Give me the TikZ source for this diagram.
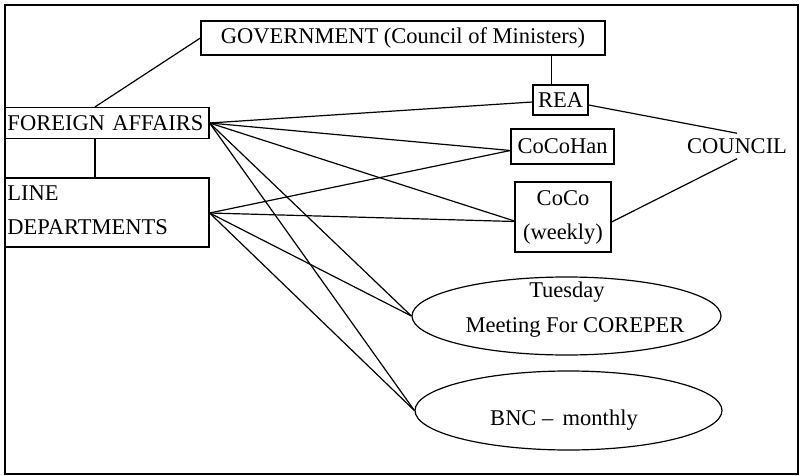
\documentclass[tikz,border=0pt]{standalone}
\usepackage{fontspec}
\setmainfont{Liberation Serif}
\usetikzlibrary{shapes.geometric}
\begin{document}
\begin{tikzpicture}[x=1pt,y=-1pt,
  every node/.style={font=\fontsize{22.5}{34}\selectfont, inner sep=0pt},
  box/.style={draw, line width=1.2pt, rectangle},
  oval/.style={draw, line width=1.2pt, ellipse},
  link/.style={line width=1.2pt}]
\useasboundingbox (0,0) rectangle (801,476);
% outer frame
\draw[line width=1.4pt] (5,5) rectangle (798,474);

% boxes
\node[box, minimum width=404pt, minimum height=34pt] (gov) at (403,38) {GOVERNMENT (Council of Ministers)};
\node[box, minimum width=204pt, minimum height=31pt, text width=199pt, align=left] (fa) at (107,123) {FOREIGN AFFAIRS};
\node[box, minimum width=204pt, minimum height=69pt, text width=199pt, align=left] (ld) at (107,212.5) {LINE\\DEPARTMENTS\vphantom{g}};
\node[box, minimum width=55pt, minimum height=30pt] (rea) at (560.5,100) {REA};
\node[box, minimum width=103pt, minimum height=35pt] (cch) at (562.5,146.5) {CoCoHan};
\node[box, minimum width=96pt, minimum height=70pt, align=center] (coco) at (563,217) {CoCo\\(weekly)};
\node[inner sep=5pt] (council) at (737,146) {COUNCIL};

% ellipses
\node[oval, minimum width=309pt, minimum height=78pt] (tue) at (566.5,316) {};
\node[anchor=base] (tuet) at (567,297) {Tuesday};
\node[anchor=base] (tuem) at (575,332) {Meeting For COREPER};
\node[oval, minimum width=307pt, minimum height=79pt] (bnc) at (568.5,410.5) {};
\node[anchor=base] (bnct) at (564,425) {BNC – \,monthly};

% hierarchy links
\draw[link] ([xshift=-12pt]fa.north) -- (gov.west);
\draw[link] ([xshift=-12pt]fa.south) -- ([xshift=-12pt]ld.north);
\draw[link] ([xshift=-9pt]rea.north) -- ([xshift=-9pt]rea.north |- gov.south);

% foreign affairs links
\draw[link] (fa.east) -- ([yshift=-2pt]rea.west);
\draw[link] (fa.east) -- ([yshift=-4pt]cch.west);
\draw[link] (fa.east) -- ([yshift=-4pt]coco.west);
\draw[link] (fa.east) -- (tue.west);
\draw[link] (fa.east) -- (bnc.west);

% line department links
\draw[link] ([yshift=-0.5pt]ld.east) -- ([yshift=-4pt]cch.west);
\draw[link] ([yshift=-0.5pt]ld.east) -- ([yshift=-4.5pt]coco.west);
\draw[link] ([yshift=-0.5pt]ld.east) -- (tue.west);
\draw[link] ([yshift=-0.5pt]ld.east) -- (bnc.west);

% council links
\draw[link] ([yshift=-5pt]rea.east) -- (council.north);
\draw[link] ([yshift=-5pt]coco.east) -- (council.south);
\end{tikzpicture}
\end{document}
